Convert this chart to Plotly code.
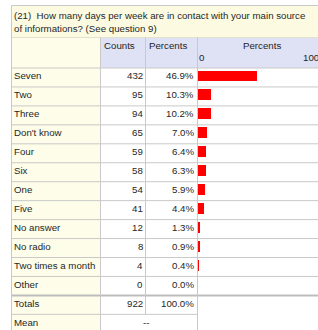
import plotly.graph_objects as go

# ---- data ----
title_lines = ["(21)  How many days per week are in contact with your main source",
               "of informations? (See question 9)"]
col_headers = ["Counts", "Percents"]
bar_header = "Percents"
bar_ticks = [0, 100]
labels = ["Seven", "Two", "Three", "Don't know", "Four", "Six", "One", "Five",
          "No answer", "No radio", "Two times a month", "Other"]
counts = [432, 95, 94, 65, 59, 58, 54, 41, 12, 8, 4, 0]
percents = [46.9, 10.3, 10.2, 7.0, 6.4, 6.3, 5.9, 4.4, 1.3, 0.9, 0.4, 0.0]
total_label = "Totals"
total_count = 922
total_pct = 100.0
mean_label = "Mean"
mean_text = "--"

# ---- geometry (pixels) ----
W, H = 318, 330
ROW0, PITCH = 68.0, 18.95
X_LEFT, X_LAB, X_CNT, X_PCT = 11.5, 100.5, 145.5, 197.5
BAR_FULL = 127.0
TITLE_TOP, HEAD_TOP = 5.5, 37.5
FONT = "Liberation Sans, Arial, sans-serif"
TXT = "#262626"
GRID = "#c9c9c9"


def r(px):
    return (px - ROW0) / PITCH


n = len(labels)
y_top, y_bot = r(0), r(H)
x2_max = 100 * (W - X_PCT) / BAR_FULL

fig = go.Figure()

fig.add_trace(go.Bar(
    x=percents, y=[k + 0.422 for k in range(n)], orientation="h", width=0.58,
    marker=dict(color="#ff0000", line=dict(width=0)), xaxis="x2", yaxis="y",
    hoverinfo="skip"))

shapes = []
# backgrounds
shapes.append(dict(type="rect", xref="x", yref="y", x0=X_LEFT, x1=W, y0=r(TITLE_TOP), y1=r(HEAD_TOP),
                   fillcolor="#fcfbe2", line=dict(width=0), layer="below"))
shapes.append(dict(type="rect", xref="x", yref="y", x0=X_LEFT, x1=X_LAB, y0=r(HEAD_TOP), y1=y_bot,
                   fillcolor="#fdfde9", line=dict(width=0), layer="below"))
shapes.append(dict(type="rect", xref="x", yref="y", x0=X_LAB, x1=W, y0=r(HEAD_TOP), y1=0,
                   fillcolor="#dfe1f4", line=dict(width=0), layer="below"))
# horizontal lines
shapes.append(dict(type="line", xref="x", yref="y", x0=X_LEFT, x1=W, y0=r(TITLE_TOP), y1=r(TITLE_TOP),
                   line=dict(color=GRID, width=1), layer="below"))
shapes.append(dict(type="line", xref="x", yref="y", x0=X_LEFT, x1=W, y0=r(HEAD_TOP), y1=r(HEAD_TOP),
                   line=dict(color="#e4e2cc", width=1), layer="below"))
for k in range(n + 1):
    shapes.append(dict(type="line", xref="x", yref="y", x0=X_LEFT, x1=W, y0=k, y1=k,
                       line=dict(color="#bdbdbd" if k == n else GRID, width=2 if k == n else 1),
                       layer="below"))
shapes.append(dict(type="line", xref="x", yref="y", x0=X_LEFT, x1=X_PCT, y0=n + 1, y1=n + 1,
                   line=dict(color=GRID, width=1), layer="below"))
# vertical lines
shapes.append(dict(type="line", xref="x", yref="y", x0=X_LEFT, x1=X_LEFT, y0=r(TITLE_TOP), y1=y_bot,
                   line=dict(color=GRID, width=1), layer="below"))
for xv, yend in [(X_LAB, y_bot), (X_CNT, n + 1), (X_PCT, y_bot)]:
    shapes.append(dict(type="line", xref="x", yref="y", x0=xv, x1=xv, y0=r(HEAD_TOP), y1=yend,
                       line=dict(color=GRID, width=1), layer="below"))

ann = []
fnt = dict(family=FONT, size=9.7, color=TXT)


def add_text(text, x, y, xanchor, xref="x", xshift=0):
    ann.append(dict(text=text, x=x, y=y, xref=xref, yref="y", xanchor=xanchor, yanchor="middle",
                    showarrow=False, font=fnt, xshift=xshift, borderpad=0, borderwidth=0))


# title
add_text(title_lines[0], 14, r(15.5), "left")
add_text(title_lines[1], 14, r(28), "left")
# headers
add_text(col_headers[0], 104, r(45.5), "left")
add_text(col_headers[1], 149, r(45.5), "left")
add_text(bar_header, 262, r(45.5), "center")
add_text(str(bar_ticks[0]), bar_ticks[0], r(57.5), "left", xref="x2", xshift=1)
# right tick label: the 100 position lies just past the visible edge, anchor at axis end
add_text(str(bar_ticks[1]), x2_max, r(57.5), "left", xref="x2", xshift=-15)

rows = [(labels[k], str(counts[k]), f"{percents[k]:.1f}%") for k in range(n)]
rows.append((total_label, str(total_count), f"{total_pct:.1f}%"))
for k, (lab, c, p) in enumerate(rows):
    yy = k + 0.406
    add_text(lab, 14, yy, "left")
    add_text(c, 143, yy, "right")
    add_text(p, 194, yy, "right")
add_text(mean_label, 14, n + 1 + 0.406, "left")
add_text(mean_text, 146, n + 1 + 0.406, "center")

fig.update_layout(
    width=W, height=H, margin=dict(l=0, r=0, t=0, b=0, pad=0, autoexpand=False),
    paper_bgcolor="white", plot_bgcolor="rgba(0,0,0,0)", showlegend=False,
    xaxis=dict(range=[0, W], domain=[0, 1], visible=False, fixedrange=True),
    xaxis2=dict(range=[0, x2_max], domain=[X_PCT / W + 0.5 / W, 1],
                visible=False, fixedrange=True, anchor="y"),
    yaxis=dict(range=[y_bot, y_top], domain=[0, 1], visible=False, fixedrange=True),
    shapes=shapes, annotations=ann, bargap=0,
)

fig.write_html("out.html", config={"displayModeBar": False},
               post_script="document.body.style.margin='0';document.body.style.overflow='hidden';")
